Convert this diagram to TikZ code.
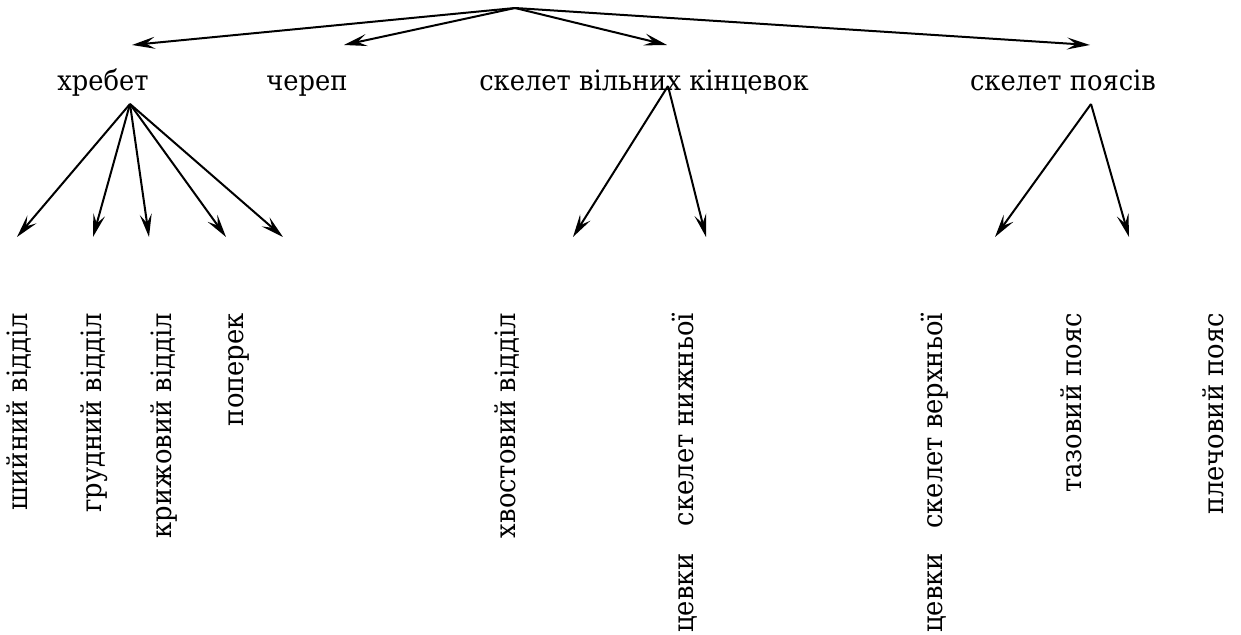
\documentclass[tikz,border=0pt]{standalone}
\usepackage{fontspec}
\newfontfamily\labelfont[FakeStretch=0.92]{DejaVu Serif}
\usetikzlibrary{arrows.meta}
\begin{document}
\begin{tikzpicture}[x=1pt,y=-1pt,
  link/.style={line width=2pt,-{Stealth[length=23pt,width=12pt,inset=9pt]}},
  head/.style={font=\labelfont\fontsize{28}{34}\selectfont, inner sep=0pt, anchor=base},
  leaf/.style={font=\labelfont\fontsize{28}{34}\selectfont, inner sep=0pt, rotate=90,
               anchor=east, text height=0.68em, text depth=0.22em}]
\useasboundingbox (0,0) rectangle (1241,634);

% top level
\coordinate (root) at (515,8);
\node[head] (spine)   at (103,90)  {хребет};
\node[head] (skull)   at (307,90)  {череп};
\node[head] (limbs)   at (644,90)  {скелет вільних кінцевок};
\node[head] (girdles) at (1063,90) {скелет поясів};

\coordinate (tSpine)   at (132,45);
\coordinate (tSkull)   at (344,45);
\coordinate (tLimbs)   at (667,45);
\coordinate (tGirdles) at (1090,45);
\foreach \t in {tSpine,tSkull,tLimbs,tGirdles}
  \draw[link] (root) -- (\t);

% branching points below the labels
\coordinate (sSpine)   at (130,104);
\coordinate (sLimbs)   at (668,86);
\coordinate (sGirdles) at (1091,104);

% arrow ends
\coordinate (c1) at (17,237);
\coordinate (c2) at (93,237);
\coordinate (c3) at (149,237);
\coordinate (c4) at (226,237);
\coordinate (c5) at (283,237);
\coordinate (l1) at (573,237);
\coordinate (l2) at (706,237);
\coordinate (g1) at (995,237);
\coordinate (g2) at (1129,237);
\foreach \t in {c1,c2,c3,c4,c5} \draw[link] (sSpine) -- (\t);
\foreach \t in {l1,l2} \draw[link] (sLimbs) -- (\t);
\foreach \t in {g1,g2} \draw[link] (sGirdles) -- (\t);

% vertical labels
\node[leaf] (cervical) at (25,313)   {шийний відділ};
\node[leaf] (thoracic) at (99,313)   {грудний відділ};
\node[leaf] (sacral)   at (169,313)  {крижовий відділ};
\node[leaf] (lumbar)   at (241,313)  {поперек};
\node[leaf] (caudal)   at (513,313)  {хвостовий відділ};
\node[leaf] (lower)    at (691,313)  {скелет нижньої};
\node[leaf] (lowerB)   at (691,553)  {цевки};
\node[leaf] (upper)    at (940,313)  {скелет верхньої};
\node[leaf] (upperB)   at (940,553)  {цевки};
\node[leaf] (pelvic)   at (1079,313) {тазовий пояс};
\node[leaf] (shoulder) at (1221,313) {плечовий пояс};
\end{tikzpicture}
\end{document}
